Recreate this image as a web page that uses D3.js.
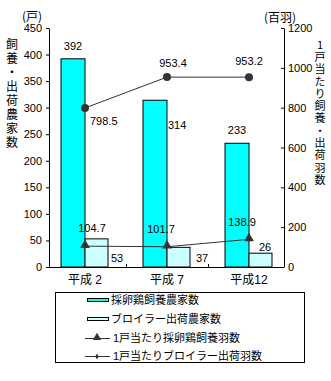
<!DOCTYPE html>
<html><head><meta charset="utf-8">
<script src="https://cdn.jsdelivr.net/npm/d3@7"></script>
<style>
body{margin:0;background:#fff;}
svg{display:block;font-family:"Liberation Sans","Noto Sans CJK JP",sans-serif;}
.vt{writing-mode:vertical-rl;text-orientation:upright;}
</style></head>
<body>
<svg id="c" width="331" height="381"></svg>
<script>
const categories = ["平成 2", "平成 7", "平成12"];
const layerFarms = [392, 314, 233];
const broilerFarms = [53, 37, 26];
const layerPerFarm = [104.7, 101.7, 138.9];
const broilerPerFarm = [798.5, 953.4, 953.2];
const leftTicks = [0, 50, 100, 150, 200, 250, 300, 350, 400, 450];
const rightTicks = [0, 200, 400, 600, 800, 1000, 1200];
const seriesNames = ["採卵鶏飼養農家数", "ブロイラー出荷農家数", "1戸当たり採卵鶏飼養羽数", "1戸当たりブロイラー出荷羽数"];
const leftTitle = "飼養・出荷農家数";
const rightTitle = "1戸当たり飼養・出荷羽数";

const svg = d3.select("#c");
const axL = 49, axR = 284, y0 = 267, yTop = 28;
const x = d3.scaleBand().domain(categories).range([44, 290]).paddingInner(0);
const cx = c => x(c) + x.bandwidth() / 2;
const yL = d3.scaleLinear().domain([0, 450]).range([y0, yTop]);
const yR = d3.scaleLinear().domain([0, 1200]).range([y0, yTop]);
const bw = 24;
const dark = "#333";

// bars
const g = svg.append("g");
categories.forEach((c, i) => {
  g.append("rect").attr("x", cx(c) - bw).attr("y", yL(layerFarms[i]))
    .attr("width", bw).attr("height", y0 - yL(layerFarms[i]))
    .attr("fill", "#00ffff").attr("stroke", "#000").attr("stroke-width", 1);
  g.append("rect").attr("x", cx(c)).attr("y", yL(broilerFarms[i]))
    .attr("width", bw - 1).attr("height", y0 - yL(broilerFarms[i]))
    .attr("fill", "#ccffff").attr("stroke", "#000").attr("stroke-width", 1);
});

// axes
const fmt = d3.format("d");
const left = d3.axisLeft(yL).tickValues(leftTicks).tickFormat(fmt).tickSize(3).tickSizeOuter(0).tickPadding(4);
const right = d3.axisRight(yR).tickValues(rightTicks).tickFormat(fmt).tickSize(-3).tickSizeOuter(0).tickPadding(4);
const gl = svg.append("g").attr("transform", `translate(${axL},0)`).call(left);
const gr = svg.append("g").attr("transform", `translate(${axR},0)`).call(right);
[gl, gr].forEach(a => {
  a.selectAll("text").attr("font-size", 11).attr("fill", "#000").attr("font-family", "Liberation Sans");
  a.selectAll("line,path").attr("stroke", "#000");
});
// bottom axis
svg.append("line").attr("x1", axL).attr("x2", axR).attr("y1", y0 + 0.5).attr("y2", y0 + 0.5).attr("stroke", "#000");
categories.slice(1).forEach(c => {
  svg.append("line").attr("x1", Math.round(x(c)) + 0.5).attr("x2", Math.round(x(c)) + 0.5)
    .attr("y1", y0).attr("y2", y0 - 3).attr("stroke", "#000");
});
categories.forEach(c => {
  svg.append("text").attr("x", cx(c)).attr("y", 284).attr("text-anchor", "middle")
    .attr("font-size", 12).attr("fill", "#000").text(c);
});

// lines
const line1 = d3.line().x((d, i) => cx(categories[i])).y(d => yR(d));
svg.append("path").attr("d", line1(layerPerFarm)).attr("fill", "none").attr("stroke", dark).attr("stroke-width", 1);
svg.append("path").attr("d", line1(broilerPerFarm)).attr("fill", "none").attr("stroke", dark).attr("stroke-width", 1);
const tri = d3.symbol().type(d3.symbolTriangle).size(42);
layerPerFarm.forEach((v, i) => {
  svg.append("path").attr("d", tri()).attr("transform", `translate(${cx(categories[i])},${yR(v) - 1})`).attr("fill", dark);
});
broilerPerFarm.forEach((v, i) => {
  svg.append("circle").attr("cx", cx(categories[i])).attr("cy", yR(v)).attr("r", 4).attr("fill", dark);
});

// data labels (placement offsets relative to marks)
const lab = (t, xx, yy, anchor) => svg.append("text").attr("x", xx).attr("y", yy)
  .attr("text-anchor", anchor || "middle").attr("dominant-baseline", "central")
  .attr("font-size", 11).attr("fill", "#000").text(t);
const layerLabelPos = [
  (c, v) => [cx(c) - bw / 2, yL(v) - 13, "middle"],
  (c, v) => [cx(c) + 1, yL(v) + 25, "start"],
  (c, v) => [cx(c) - bw / 2, yL(v) - 13, "middle"]
];
categories.forEach((c, i) => { const p = layerLabelPos[i](c, layerFarms[i]); lab(String(layerFarms[i]), p[0], p[1], p[2]); });
const broilerLabelPos = [
  (c, v) => [cx(c) + bw + 2, y0 - 9, "start"],
  (c, v) => [cx(c) + bw + 5, y0 - 9, "start"],
  (c, v) => [cx(c) + 16, yL(v) - 6, "middle"]
];
categories.forEach((c, i) => { const p = broilerLabelPos[i](c, broilerFarms[i]); lab(String(broilerFarms[i]), p[0], p[1], p[2]); });
const layerPFPos = [
  (c, v) => [cx(c) + 7, yR(v) - 18],
  (c, v) => [cx(c) - 6, yR(v) - 18],
  (c, v) => [cx(c) - 7, yR(v) - 17]
];
categories.forEach((c, i) => { const p = layerPFPos[i](c, layerPerFarm[i]); lab(layerPerFarm[i].toFixed(1), p[0], p[1]); });
const broilerPFPos = [
  (c, v) => [cx(c) + 5, yR(v) + 13, "start"],
  (c, v) => [cx(c) + 6, yR(v) - 14, "middle"],
  (c, v) => [cx(c), yR(v) - 16, "middle"]
];
categories.forEach((c, i) => { const p = broilerPFPos[i](c, broilerPerFarm[i]); lab(broilerPerFarm[i].toFixed(1), p[0], p[1], p[2]); });

// unit labels
svg.append("text").attr("x", 32).attr("y", 15).attr("text-anchor", "middle").attr("dominant-baseline", "central")
  .attr("font-size", 12).attr("font-family", "Noto Sans CJK JP").text("(戸)");
svg.append("text").attr("x", 280).attr("y", 16).attr("text-anchor", "middle").attr("dominant-baseline", "central")
  .attr("font-size", 12).attr("font-family", "Noto Sans CJK JP").text("(百羽)");

// vertical axis titles
svg.append("text").attr("class", "vt").attr("x", 12).attr("y", 38)
  .attr("font-size", 12).attr("letter-spacing", 2).attr("font-family", "Noto Sans CJK JP").text(leftTitle);
svg.append("text").attr("class", "vt").attr("x", 320).attr("y", 39)
  .attr("font-size", 11).attr("letter-spacing", 1.3).attr("font-family", "Noto Sans CJK JP").text(rightTitle);

// legend
const lg = svg.append("g");
lg.append("rect").attr("x", 55.5).attr("y", 292.5).attr("width", 249).attr("height", 70)
  .attr("fill", "#fff").attr("stroke", "#000");
const rows = [300, 319, 338, 356];
const fills = ["#00ffff", "#ccffff"];
[0, 1].forEach(k => {
  lg.append("rect").attr("x", 87.5).attr("y", rows[k] - 1.5).attr("width", 21).attr("height", 3)
    .attr("fill", fills[k]).attr("stroke", "#000");
});
[2, 3].forEach(k => {
  lg.append("line").attr("x1", 85).attr("x2", 110).attr("y1", rows[k] + 0.5).attr("y2", rows[k] + 0.5).attr("stroke", dark);
});
lg.append("path").attr("d", d3.symbol().type(d3.symbolTriangle).size(30)()).attr("transform", `translate(97,${rows[2] - 0.5})`).attr("fill", dark);
lg.append("path").attr("d", d3.symbol().type(d3.symbolDiamond).size(10)()).attr("transform", `translate(97,${rows[3] + 0.5})`).attr("fill", dark);
seriesNames.forEach((n, k) => {
  lg.append("text").attr("x", k < 2 ? 111 : 113).attr("y", rows[k]).attr("dominant-baseline", "central")
    .attr("font-size", 11).attr("fill", "#000").text(n);
});
</script>
</body></html>
